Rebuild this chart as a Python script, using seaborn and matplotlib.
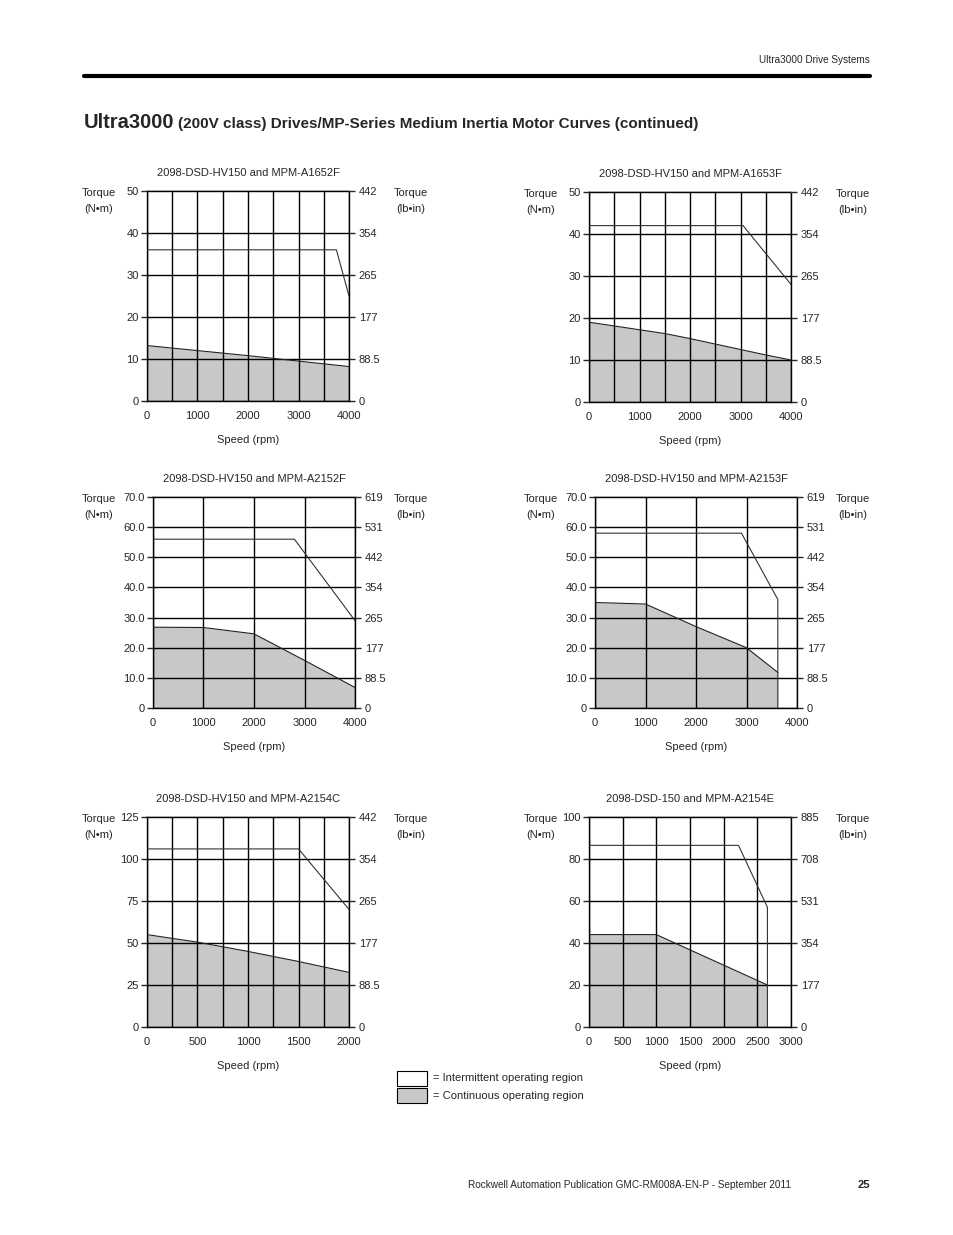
import matplotlib
matplotlib.use("Agg")
from matplotlib import pyplot as plt
from matplotlib.patches import Rectangle
from matplotlib.lines import Line2D
import seaborn as sns
import pandas as pd

# ---- data (speed rpm, torque N*m) ----
a1652f_int_speed = [0, 3750, 4000]
a1652f_int_torque = [36, 36, 25]
a1652f_cont_speed = [0, 1000, 2000, 3000, 4000]
a1652f_cont_torque = [13.2, 12.0, 10.8, 9.5, 8.2]

a1653f_int_speed = [0, 3050, 4000]
a1653f_int_torque = [42, 42, 28]
a1653f_cont_speed = [0, 500, 1000, 1500, 2000, 2500, 3000, 3500, 4000]
a1653f_cont_torque = [19.0, 18.1, 17.2, 16.3, 15.1, 13.8, 12.5, 11.2, 10.0]

a2152f_int_speed = [0, 2800, 4000]
a2152f_int_torque = [56, 56, 29]
a2152f_cont_speed = [0, 1000, 2000, 3000, 4000]
a2152f_cont_torque = [26.8, 26.7, 24.6, 15.8, 6.8]

a2153f_int_speed = [0, 2900, 3620, 3620]
a2153f_int_torque = [58, 58, 36, 0]
a2153f_cont_speed = [0, 1000, 2000, 3000, 3620]
a2153f_cont_torque = [35.0, 34.5, 27.0, 20.0, 11.8]

a2154c_int_speed = [0, 1500, 2000]
a2154c_int_torque = [106, 106, 70]
a2154c_cont_speed = [0, 500, 1000, 1500, 2000]
a2154c_cont_torque = [55.0, 50.5, 45.0, 39.0, 32.5]

a2154e_int_speed = [0, 2220, 2650, 2650]
a2154e_int_torque = [86.5, 86.5, 57, 0]
a2154e_cont_speed = [0, 1000, 2650]
a2154e_cont_torque = [44, 44, 20]

# axis tick labels
nm_ticks_50 = [0, 10, 20, 30, 40, 50]
nm_labels_50 = ["0", "10", "20", "30", "40", "50"]
lbin_labels_50 = ["0", "88.5", "177", "265", "354", "442"]

nm_ticks_70 = [0, 10, 20, 30, 40, 50, 60, 70]
nm_labels_70 = ["0", "10.0", "20.0", "30.0", "40.0", "50.0", "60.0", "70.0"]
lbin_labels_70 = ["0", "88.5", "177", "265", "354", "442", "531", "619"]

nm_ticks_125 = [0, 25, 50, 75, 100, 125]
nm_labels_125 = ["0", "25", "50", "75", "100", "125"]
lbin_labels_125 = ["0", "88.5", "177", "265", "354", "442"]

nm_ticks_100 = [0, 20, 40, 60, 80, 100]
nm_labels_100 = ["0", "20", "40", "60", "80", "100"]
lbin_labels_100 = ["0", "177", "354", "531", "708", "885"]

speed_grid_4000 = [0, 500, 1000, 1500, 2000, 2500, 3000, 3500, 4000]
speed_labels_4000 = ["0", "", "1000", "", "2000", "", "3000", "", "4000"]
speed_grid_4000b = [0, 1000, 2000, 3000, 4000]
speed_labels_4000b = ["0", "1000", "2000", "3000", "4000"]
speed_grid_2000 = [0, 250, 500, 750, 1000, 1250, 1500, 1750, 2000]
speed_labels_2000 = ["0", "", "500", "", "1000", "", "1500", "", "2000"]
speed_grid_3000 = [0, 500, 1000, 1500, 2000, 2500, 3000]
speed_labels_3000 = ["0", "500", "1000", "1500", "2000", "2500", "3000"]

W, H = 954, 1235
FS = 8.0
sns.set_style("white")
plt.rcParams['font.family'] = ['Liberation Sans Narrow', 'Liberation Sans', 'DejaVu Sans']
plt.rcParams['font.size'] = FS

fig = plt.figure(figsize=(W / 100, H / 100), dpi=100)


def px_axes(x0, y0, x1, y1):
    return fig.add_axes([x0 / W, 1 - y1 / H, (x1 - x0) / W, (y1 - y0) / H])


charts = [
    dict(title="2098-DSD-HV150 and MPM-A1652F", box=(147, 191, 349, 401),
         ints=(a1652f_int_speed, a1652f_int_torque), cont=(a1652f_cont_speed, a1652f_cont_torque),
         xmax=4000, xg=speed_grid_4000, xl=speed_labels_4000,
         ymax=50, yt=nm_ticks_50, yl=nm_labels_50, rl=lbin_labels_50),
    dict(title="2098-DSD-HV150 and MPM-A1653F", box=(589, 192, 791, 402),
         ints=(a1653f_int_speed, a1653f_int_torque), cont=(a1653f_cont_speed, a1653f_cont_torque),
         xmax=4000, xg=speed_grid_4000, xl=speed_labels_4000,
         ymax=50, yt=nm_ticks_50, yl=nm_labels_50, rl=lbin_labels_50),
    dict(title="2098-DSD-HV150 and MPM-A2152F", box=(153, 497, 355, 708),
         ints=(a2152f_int_speed, a2152f_int_torque), cont=(a2152f_cont_speed, a2152f_cont_torque),
         xmax=4000, xg=speed_grid_4000b, xl=speed_labels_4000b,
         ymax=70, yt=nm_ticks_70, yl=nm_labels_70, rl=lbin_labels_70),
    dict(title="2098-DSD-HV150 and MPM-A2153F", box=(595, 497, 797, 708),
         ints=(a2153f_int_speed, a2153f_int_torque), cont=(a2153f_cont_speed, a2153f_cont_torque),
         xmax=4000, xg=speed_grid_4000b, xl=speed_labels_4000b,
         ymax=70, yt=nm_ticks_70, yl=nm_labels_70, rl=lbin_labels_70),
    dict(title="2098-DSD-HV150 and MPM-A2154C", box=(147, 817, 349, 1027),
         ints=(a2154c_int_speed, a2154c_int_torque), cont=(a2154c_cont_speed, a2154c_cont_torque),
         xmax=2000, xg=speed_grid_2000, xl=speed_labels_2000,
         ymax=125, yt=nm_ticks_125, yl=nm_labels_125, rl=lbin_labels_125),
    dict(title="2098-DSD-150 and MPM-A2154E", box=(589, 817, 791, 1027),
         ints=(a2154e_int_speed, a2154e_int_torque), cont=(a2154e_cont_speed, a2154e_cont_torque),
         xmax=3000, xg=speed_grid_3000, xl=speed_labels_3000,
         ymax=100, yt=nm_ticks_100, yl=nm_labels_100, rl=lbin_labels_100),
]

for c in charts:
    ax = px_axes(*c["box"])
    cs, ct = c["cont"]
    ax.fill_between(cs, ct, 0, color="#c8c8c8", zorder=1, lw=0)
    dfc = pd.DataFrame({"speed": cs, "torque": ct})
    sns.lineplot(data=dfc, x="speed", y="torque", ax=ax, color="#222222", lw=0.8,
                 estimator=None, sort=False, zorder=4)
    isp, itq = c["ints"]
    dfi = pd.DataFrame({"speed": isp, "torque": itq})
    sns.lineplot(data=dfi, x="speed", y="torque", ax=ax, color="#333333", lw=0.8,
                 estimator=None, sort=False, zorder=4)
    ax.set_xlim(0, c["xmax"])
    ax.set_ylim(0, c["ymax"])
    ax.set_xticks(c["xg"])
    ax.set_xticklabels(c["xl"])
    ax.set_yticks(c["yt"])
    ax.set_yticklabels(c["yl"])
    ax.grid(True, color="black", lw=1.0, zorder=3)
    ax.set_axisbelow(False)
    ax.tick_params(axis="x", length=0, pad=7, labelsize=FS)
    ax.tick_params(axis="y", left=True, length=4, width=1, direction="out", pad=2, labelsize=FS)
    for s in ["left", "right", "bottom"]:
        ax.spines[s].set_color("black")
        ax.spines[s].set_linewidth(1.0)
    ax.spines["top"].set_color("#999999")
    ax.spines["top"].set_linewidth(1.2)
    ax.set_xlabel("Speed (rpm)", labelpad=10, fontsize=FS)
    ax.set_ylabel("")
    ax.set_title(c["title"], fontsize=FS, pad=11)

    ax2 = ax.twinx()
    ax2.set_ylim(0, c["ymax"])
    ax2.set_yticks(c["yt"])
    ax2.set_yticklabels(c["rl"])
    ax2.tick_params(axis="y", right=True, length=4, width=1, direction="out", pad=3, labelsize=FS)
    for s in ax2.spines.values():
        s.set_visible(False)
    ax2.grid(False)

    x0, y0, x1, y1 = c["box"]
    lx = 99 if x0 < 500 else 541
    fig.text(lx / W, 1 - (y0 - 3) / H, "Torque\n(N\u2022m)", ha="center", va="top",
             fontsize=FS, linespacing=1.75)
    fig.text((lx + 312) / W, 1 - (y0 - 3) / H, "Torque\n(lb\u2022in)", ha="center", va="top",
             fontsize=FS, linespacing=1.75)

# legend boxes
fig.add_artist(Rectangle((397 / W, 1 - 1086 / H), 30 / W, 15 / H, transform=fig.transFigure,
                         facecolor="white", edgecolor="black", lw=0.8))
fig.add_artist(Rectangle((397 / W, 1 - 1103 / H), 30 / W, 15 / H, transform=fig.transFigure,
                         facecolor="#c8c8c8", edgecolor="black", lw=0.8))
fig.text(433 / W, 1 - 1078 / H, "= Intermittent operating region", va="center", fontsize=FS)
fig.text(433 / W, 1 - 1096 / H, "= Continuous operating region", va="center", fontsize=FS)

# page header / footer
fig.text(870 / W, 1 - 60 / H, "Ultra3000 Drive Systems", ha="right", va="center", fontsize=7.2)
fig.add_artist(Line2D([84 / W, 870 / W], [1 - 76 / H, 1 - 76 / H], color="black", lw=3,
                      transform=fig.transFigure))
t1 = fig.text(84 / W, 1 - 128 / H, "Ultra3000", ha="left", va="baseline", fontsize=14.5,
              fontweight="bold")
renderer = fig.canvas.get_renderer()
bb = t1.get_window_extent(renderer)
fig.text((bb.x1 + 4) / W, 1 - 128 / H,
         "(200V class) Drives/MP-Series Medium Inertia Motor Curves (continued)",
         ha="left", va="baseline", fontsize=11, fontweight="bold")
fig.text(630 / W, 1 - 1185 / H, "Rockwell Automation Publication GMC-RM008A-EN-P - September 2011",
         ha="center", va="center", fontsize=7.2)
fig.text(870 / W, 1 - 1185 / H, "25", ha="right", va="center", fontsize=FS, fontweight="bold")

fig.savefig("out.png", dpi=100)
